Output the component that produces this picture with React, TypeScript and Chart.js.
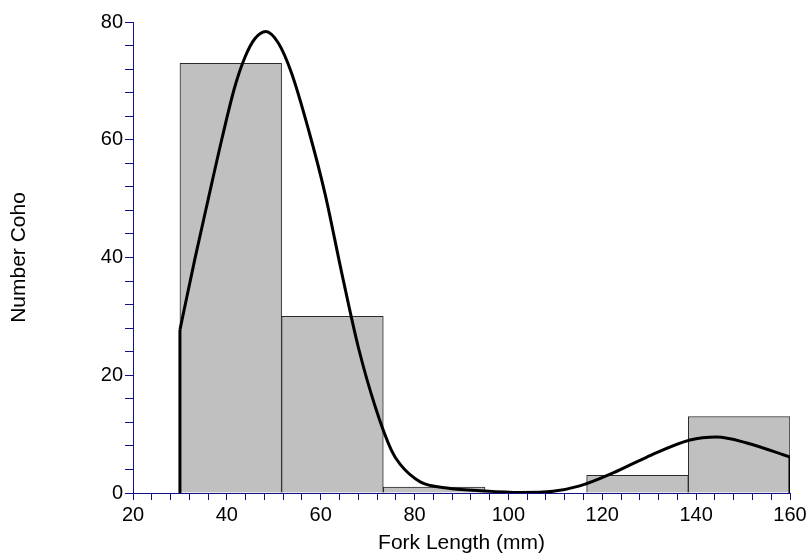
import React, { useEffect, useRef } from "react";
import { Chart, registerables } from "chart.js";

Chart.register(...registerables);

const binEdges = [30, 51.667, 73.333, 95, 116.667, 138.333, 160];
const counts = [73, 30, 1, 0, 3, 13];

const curveX = [30, 33.2, 36, 38.9, 41.7, 43.9, 46, 48.3, 51, 53.8, 57.4, 60.9, 64.5, 68, 71.6, 75.1, 76.9, 81.2, 86.9, 94, 102.5, 109.5, 115.2, 122.3, 129.5, 138.7, 144.4, 150.8, 160];
const curveY = [27.7, 39.8, 49.8, 60, 69, 74.1, 77.2, 78.4, 76.4, 71.3, 61.7, 50.9, 37.3, 24.8, 14.7, 7.2, 4.9, 1.9, 0.85, 0.4, 0.1, 0.3, 1.2, 3.4, 6.1, 9, 9.5, 8.5, 6.1];

const xTitle = "Fork Length (mm)";
const yTitle = "Number Coho";

const AXIS = "#10108c";
const FONT = "'Liberation Sans', Arial, sans-serif";

export default function App() {
  const ref = useRef<HTMLCanvasElement>(null);
  useEffect(() => {
    if (!ref.current) return;
    const bars = counts.map((c, i) => ({ x: (binEdges[i] + binEdges[i + 1]) / 2, y: c }));
    const curve = curveX.map((x, i) => ({ x, y: curveY[i] }));
    const n = curve.length;
    const chart = new Chart(ref.current, {
      type: "bar",
      data: {
        datasets: [
          {
            type: "line",
            data: curve,
            borderColor: "#000",
            borderWidth: 3,
            pointRadius: 0,
            cubicInterpolationMode: "monotone",
            fill: false,
            order: 0,
          } as any,
          {
            type: "line",
            data: [{ x: curve[0].x, y: 0 }, curve[0]],
            borderColor: "#000",
            borderWidth: 3,
            pointRadius: 0,
            fill: false,
            order: 0,
          } as any,
          {
            type: "line",
            data: [curve[n - 1], { x: curve[n - 1].x, y: 0 }],
            borderColor: "#000",
            borderWidth: 3,
            pointRadius: 0,
            fill: false,
            order: 0,
          } as any,
          {
            type: "bar",
            data: bars,
            backgroundColor: "#c0c0c0",
            borderColor: "#2a2a2a",
            borderWidth: 1,
            borderSkipped: "bottom",
            barThickness: "flex",
            barPercentage: 1,
            categoryPercentage: 1,
            order: 1,
          } as any,
        ],
      },
      options: {
        animation: false,
        responsive: false,
        layout: { padding: { top: 22, right: 19, left: 0, bottom: 0 } },
        plugins: { legend: { display: false }, tooltip: { enabled: false } },
        scales: {
          x: {
            type: "linear",
            min: 20,
            max: 160,
            offset: false,
            afterFit: (s: any) => { s.height = 63; s.paddingRight = 0; s.paddingLeft = 0; },
            ticks: {
              stepSize: 4,
              autoSkip: false,
              maxRotation: 0,
              padding: 3,
              color: "#000",
              font: { family: FONT, size: 20 },
              callback: (v: any) => (v % 20 === 0 ? String(v) : ""),
            },
            grid: { offset: false, drawOnChartArea: false, drawTicks: true, tickLength: 7, color: AXIS, lineWidth: 1 },
            border: { display: true, color: AXIS, width: 1 },
            title: { display: true, text: xTitle, color: "#000", font: { family: FONT, size: 21 }, padding: { top: 0, bottom: 0 } },
          },
          y: {
            type: "linear",
            min: 0,
            max: 80,
            afterFit: (s: any) => { s.width = 133; },
            ticks: {
              stepSize: 4,
              autoSkip: false,
              padding: 2,
              color: "#000",
              font: { family: FONT, size: 20 },
              callback: (v: any) => (v % 20 === 0 ? String(v) : ""),
            },
            grid: { drawOnChartArea: false, drawTicks: true, tickLength: 8, color: AXIS, lineWidth: 1 },
            border: { display: true, color: AXIS, width: 1 },
            title: { display: true, text: yTitle, color: "#000", font: { family: FONT, size: 21 }, padding: { top: 7, bottom: 0 } },
          },
        },
      },
    });
    return () => chart.destroy();
  }, []);
  return (
    <div style={{ position: "fixed", left: 0, top: 0, width: 809, height: 556, background: "#fff" }}>
      <canvas ref={ref} width={809} height={556} />
    </div>
  );
}
